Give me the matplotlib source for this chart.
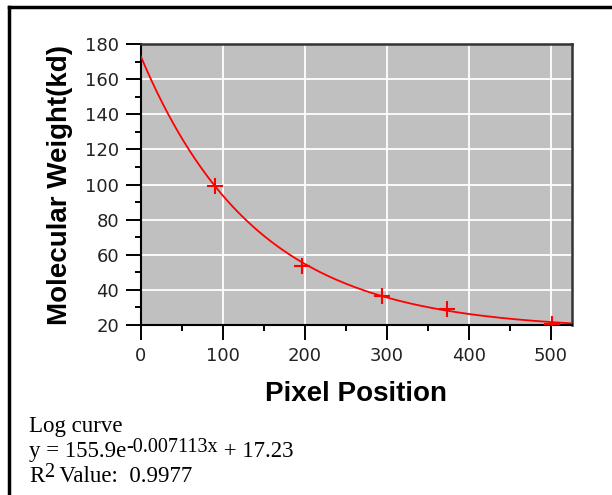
import numpy as np
import matplotlib.pyplot as plt
from matplotlib.ticker import MultipleLocator
from matplotlib.transforms import offset_copy

plt.rcParams['font.family'] = 'Liberation Sans'

# measured bands
pixel_pos = [90.5, 196.5, 294.6, 373.7, 502.0]
mol_weight = [99.1, 53.8, 36.7, 28.9, 20.4]

# fitted log curve shown under the chart
fit_a = 155.9
fit_b = 0.007113
fit_c = 17.23
r2 = 0.9977

fig = plt.figure(figsize=(6.12, 4.95), dpi=100)
ax = fig.add_axes([0.2299, 0.3434, 0.7049, 0.5677])
ax.set_facecolor('#c0c0c0')

xs = np.linspace(0, 526, 400)
ax.plot(xs, fit_a * np.exp(-fit_b * xs) + fit_c, color='red', lw=1.3, zorder=3)
ax.plot(pixel_pos, mol_weight, ls='none', marker='+', ms=11, mew=1.5,
        color='red', zorder=4)

ax.set_xlim(0, 526)
ax.set_ylim(20, 180)
ax.xaxis.set_major_locator(MultipleLocator(100))
ax.xaxis.set_minor_locator(MultipleLocator(50))
ax.yaxis.set_major_locator(MultipleLocator(20))
ax.yaxis.set_minor_locator(MultipleLocator(10))
ax.grid(True, which='major', color='white', lw=1.3)
ax.set_axisbelow(True)

ax.tick_params(which='major', direction='out', length=10.5, width=1.4,
               labelsize=13, pad=5)
ax.tick_params(which='minor', direction='out', length=4.5, width=1.4)
for lbl in ax.get_xticklabels() + ax.get_yticklabels():
    lbl.set_family('DejaVu Sans')
    lbl.set_color('#222222')

for s in ['left', 'bottom']:
    ax.spines[s].set_linewidth(1.5)
    ax.spines[s].set_color('black')
for s in ['top', 'right']:
    ax.spines[s].set_linewidth(1.8)
    ax.spines[s].set_color('#333333')

ax.set_xlabel('Pixel Position', fontsize=20, fontweight='bold', labelpad=12)
ax.set_ylabel('Molecular Weight(kd)', fontsize=20, fontweight='bold', labelpad=9)

# page frame (top and left edges)
fig.add_artist(plt.Line2D([0.0147, 0.0147], [0, 0.985], color='black', lw=2.5))
fig.add_artist(plt.Line2D([0.0147, 1.0], [0.985, 0.985], color='black', lw=2.5))

# fit summary
serif = 'Liberation Serif'
fs, fs_sup = 16.5, 14.5
r = fig.canvas.get_renderer()

def run(parts, y):
    # parts: list of (text, size, raise_px)
    x_px = 29
    for txt, size, up in parts:
        t = fig.text(x_px / 612, y, txt, family=serif, fontsize=size,
                     va='baseline')
        t.set_transform(offset_copy(fig.transFigure, fig=fig, x=0, y=up, units='dots'))
        x_px += t.get_window_extent(r).width

run([('Log curve', fs, 0)], 1 - 432 / 495)
run([('y = %.1fe' % fit_a, fs, 0), ('-%.6fx' % fit_b, fs_sup, 5),
     (' + %.2f' % fit_c, fs, 0)], 1 - 457 / 495)
run([('R', fs, 0), ('2', fs_sup, 5), (' Value:  %.4f' % r2, fs, 0)], 1 - 482 / 495)

plt.savefig('out.png', dpi=100)
